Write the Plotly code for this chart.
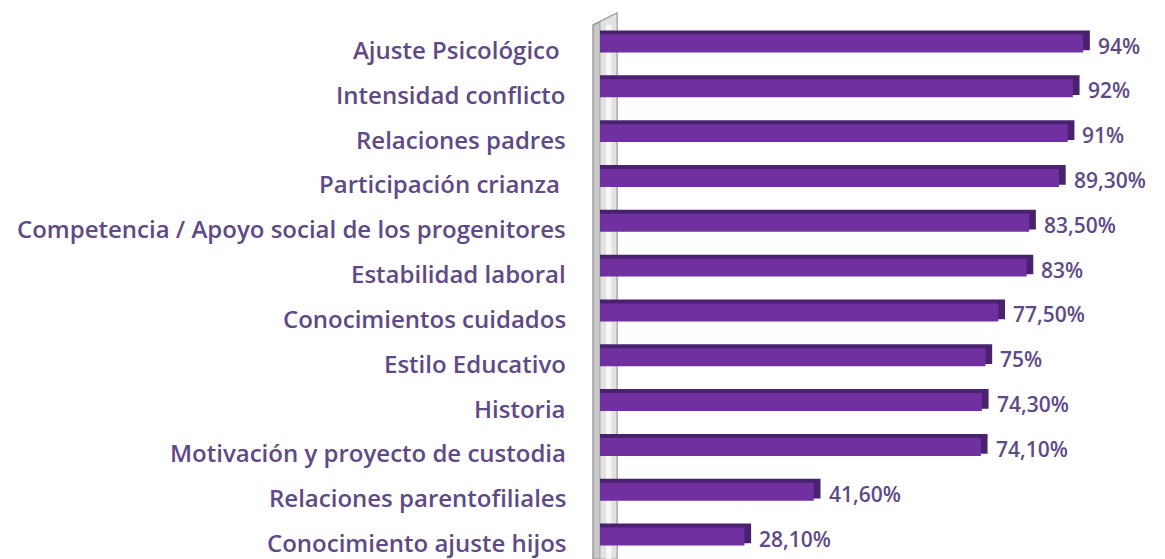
import plotly.graph_objects as go

categories = [
    "Ajuste Psicológico\u00a0",
    "Intensidad conflicto",
    "Relaciones padres",
    "Participación crianza\u00a0",
    "Competencia / Apoyo social de los progenitores",
    "Estabilidad laboral",
    "Conocimientos cuidados",
    "Estilo Educativo",
    "Historia",
    "Motivación y proyecto de custodia",
    "Relaciones parentofiliales",
    "Conocimiento ajuste hijos",
]
values = [94, 92, 91, 89.3, 83.5, 83, 77.5, 75, 74.3, 74.1, 41.6, 28.1]
value_labels = ["94%", "92%", "91%", "89,30%", "83,50%", "83%", "77,50%",
                "75%", "74,30%", "74,10%", "41,60%", "28,10%"]

FRONT = "#7030A0"
DARK = "#4A2170"
TXT = "#5E4A86"
FONT = "Open Sans"

depth = 1.3
back_vals = [v + depth for v in values]

fig = go.Figure()
# back/top face (3D depth)
fig.add_trace(go.Bar(
    y=categories, x=back_vals, orientation="h",
    width=0.44, offset=-0.29,
    marker=dict(color=DARK, line=dict(width=0)),
    hoverinfo="skip", showlegend=False,
))
# front face
fig.add_trace(go.Bar(
    y=categories, x=values, orientation="h",
    width=0.40, offset=-0.20,
    marker=dict(color=FRONT, line=dict(width=0)),
    showlegend=False,
))

# category labels (slightly below bar centre, as in the original)
for cat in categories:
    fig.add_annotation(x=0, xref="paper", y=cat, yref="y", text=cat,
                       xanchor="right", yanchor="middle", xshift=-32, yshift=-6,
                       showarrow=False,
                       font=dict(family=FONT, size=24, color=TXT, weight=600))
# value labels
for cat, bv, lab in zip(categories, back_vals, value_labels):
    fig.add_annotation(x=bv, xref="x", y=cat, yref="y", text=lab,
                       xanchor="left", yanchor="middle", xshift=6, yshift=-2,
                       showarrow=False,
                       font=dict(family=FONT, size=21, color=TXT, weight=600))

# 3D wall behind the bars
fig.add_shape(type="path", xref="paper", yref="paper", layer="below",
              path="M -0.0136 0 L -0.0136 0.989 L 0.033 1.011 L 0.033 0 Z",
              fillcolor="#C8C8C8", line=dict(color="#8A8A8A", width=1.2))
fig.add_shape(type="path", xref="paper", yref="paper", layer="below",
              path="M 0.000 0 L 0.000 0.995 L 0.033 1.011 L 0.033 0 Z",
              fillcolor="#E2E2E2", line=dict(color="#9A9A9A", width=0.8))
fig.add_shape(type="rect", xref="paper", yref="paper", layer="below",
              x0=0.012, x1=0.022, y0=0, y1=0.99,
              fillcolor="#F8F8F8", line=dict(width=0))

# the page has an 8px body margin, so the figure is sized/offset to compensate
fig.update_layout(
    width=1157, height=551,
    margin=dict(l=592, r=51, t=11, b=0, autoexpand=False),
    plot_bgcolor="white", paper_bgcolor="white",
    barmode="overlay",
    xaxis=dict(range=[0, 100], visible=False, showgrid=False, zeroline=False),
    yaxis=dict(autorange="reversed", showgrid=False, zeroline=False,
               showline=False, showticklabels=False, ticks=""),
)

fig.write_html("out.html")
